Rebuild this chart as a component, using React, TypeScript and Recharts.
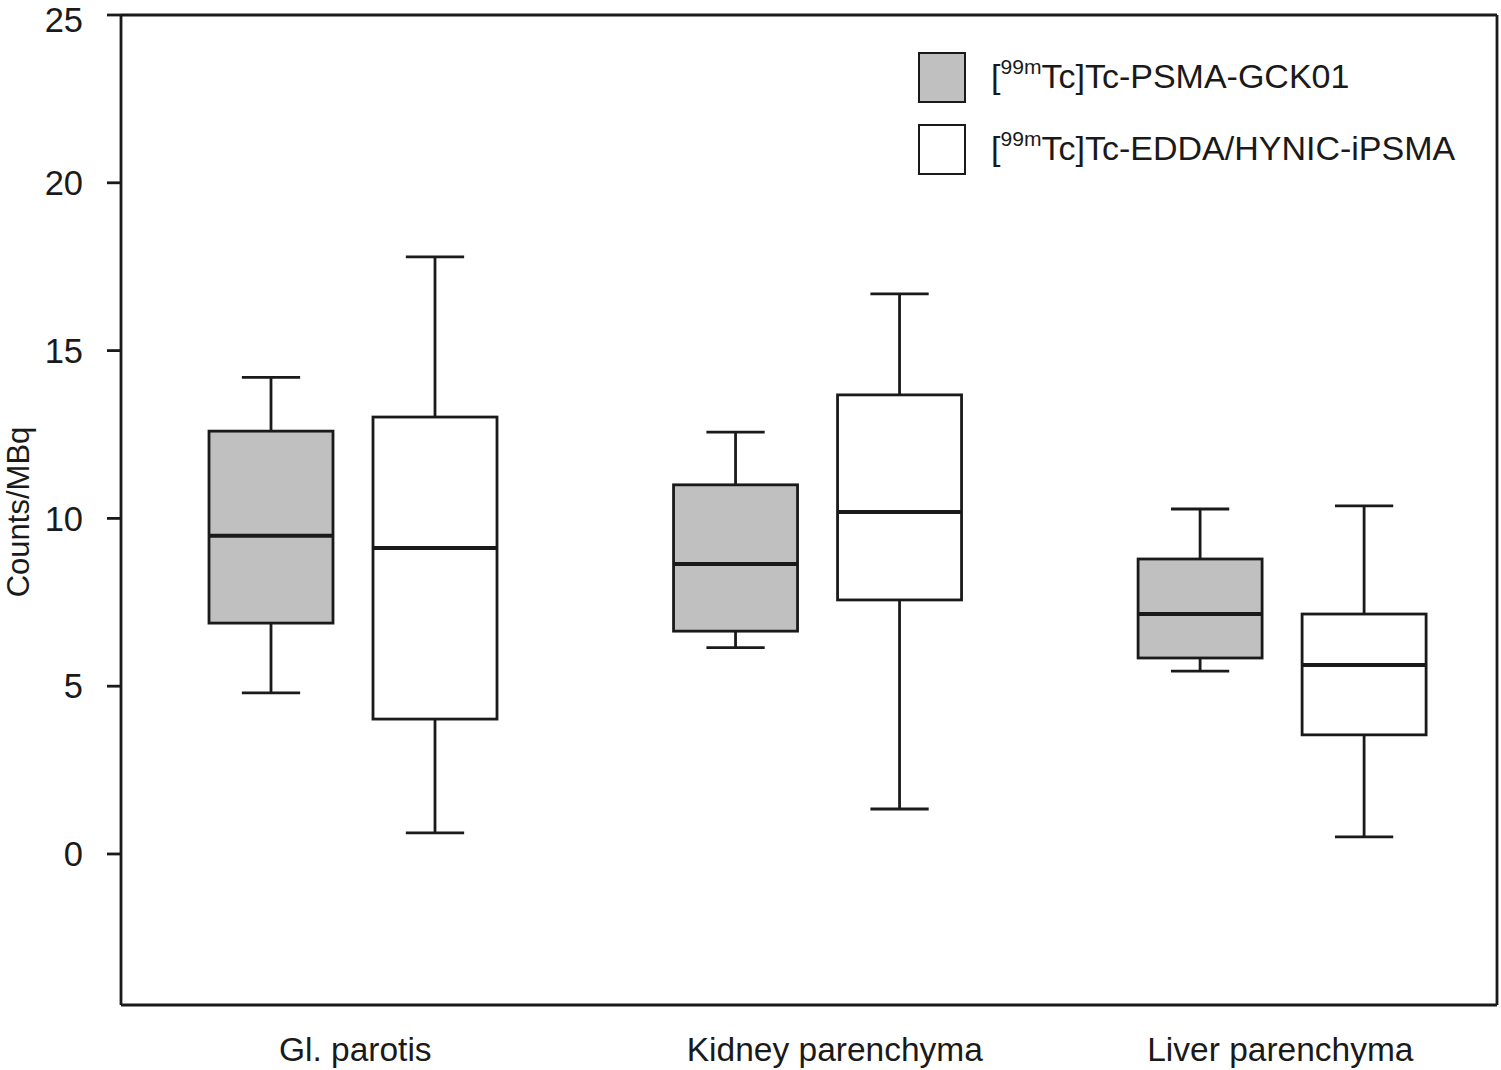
import React from "react";
import {
  BarChart,
  Bar,
  XAxis,
  YAxis,
  Legend,
  ReferenceLine,
} from "recharts";

const FONT = '"Liberation Sans", Arial, sans-serif';
const INK = "#1a1a1a";

const CATEGORIES = ["Gl. parotis", "Kidney parenchyma", "Liver parenchyma"];
const POSITIONS = [0.5, 1.5, 2.5];
const Y_TICKS = [0, 5, 10, 15, 20, 25];

// [99mTc]Tc-PSMA-GCK01
const GCK01_MIN = [4.8, 6.15, 5.45];
const GCK01_Q1 = [6.88, 6.64, 5.84];
const GCK01_MEDIAN = [9.48, 8.64, 7.15];
const GCK01_Q3 = [12.6, 11.0, 8.79];
const GCK01_MAX = [14.2, 12.57, 10.28];

// [99mTc]Tc-EDDA/HYNIC-iPSMA
const IPSMA_MIN = [0.63, 1.34, 0.51];
const IPSMA_Q1 = [4.02, 7.57, 3.55];
const IPSMA_MEDIAN = [9.12, 10.19, 5.63];
const IPSMA_Q3 = [13.02, 13.68, 7.15];
const IPSMA_MAX = [17.79, 16.69, 10.37];

const SERIES = [
  { key: "gck01", name: "[99mTc]Tc-PSMA-GCK01", sup: "99m", rest: "Tc]Tc-PSMA-GCK01", fill: "#c0c0c0" },
  { key: "ipsma", name: "[99mTc]Tc-EDDA/HYNIC-iPSMA", sup: "99m", rest: "Tc]Tc-EDDA/HYNIC-iPSMA", fill: "#ffffff" },
];

// small nudges of the category labels as placed in the original figure
const X_LABEL_SHIFT = [2, 17, -2];

const data = POSITIONS.map((pos, i) => ({
  pos,
  category: CATEGORIES[i],
  gck01: [GCK01_MIN[i], GCK01_MAX[i]],
  gck01Stats: { q1: GCK01_Q1[i], median: GCK01_MEDIAN[i], q3: GCK01_Q3[i] },
  ipsma: [IPSMA_MIN[i], IPSMA_MAX[i]],
  ipsmaStats: { q1: IPSMA_Q1[i], median: IPSMA_MEDIAN[i], q3: IPSMA_Q3[i] },
}));

const renderBox = (key: string, fill: string) => (props: any) => {
  const { x, y, width, height, payload } = props;
  const [lo, hi] = payload[key];
  const s = payload[key + "Stats"];
  const top = Math.min(y, y + height);
  const bottom = Math.max(y, y + height);
  const py = (v: number) => bottom - ((v - lo) / (hi - lo)) * (bottom - top);
  const cx = x + width / 2;
  const cap = width * 0.235;
  return (
    <g stroke={INK} strokeWidth={2.8}>
      <line x1={cx} x2={cx} y1={py(hi)} y2={py(s.q3)} />
      <line x1={cx} x2={cx} y1={py(s.q1)} y2={py(lo)} />
      <line x1={cx - cap} x2={cx + cap} y1={py(hi)} y2={py(hi)} />
      <line x1={cx - cap} x2={cx + cap} y1={py(lo)} y2={py(lo)} />
      <rect x={x} y={py(s.q3)} width={width} height={py(s.q1) - py(s.q3)} fill={fill} />
      <line x1={x} x2={x + width} y1={py(s.median)} y2={py(s.median)} strokeWidth={4} />
    </g>
  );
};

const CategoryTick = (props: any) => {
  const { x, y, payload, index } = props;
  return (
    <text
      x={x + (X_LABEL_SHIFT[index] ?? 0)}
      y={y}
      dy="0.71em"
      textAnchor="middle"
      fontSize={33.5}
      fontFamily={FONT}
      fill={INK}
    >
      {CATEGORIES[POSITIONS.indexOf(payload.value)]}
    </text>
  );
};

const renderLegend = () => (
  <div style={{ fontFamily: FONT, fontSize: 34, color: INK }}>
    {SERIES.map((s) => (
      <div key={s.key} style={{ display: "flex", alignItems: "center", height: 51, marginBottom: 21 }}>
        <div
          style={{
            width: 48,
            height: 51,
            boxSizing: "border-box",
            border: `2.8px solid ${INK}`,
            background: s.fill,
          }}
        />
        <span style={{ marginLeft: 25, marginTop: -4, whiteSpace: "nowrap" }}>
          [<sup style={{ fontSize: "0.62em", verticalAlign: "0.65em" }}>{s.sup}</sup>
          {s.rest}
        </span>
      </div>
    ))}
  </div>
);

const YLabel = (props: any) => {
  const { viewBox } = props;
  const cy = viewBox.y + viewBox.height / 2;
  return (
    <text
      transform={`translate(${viewBox.x + 29}, ${cy + 2}) rotate(-90)`}
      textAnchor="middle"
      fontSize={31}
      fontFamily={FONT}
      fill={INK}
    >
      Counts/MBq
    </text>
  );
};

export default function App() {
  return (
    <div style={{ position: "absolute", left: 0, top: 0, fontFamily: FONT }}>
      <BarChart
        width={1501}
        height={1070}
        data={data}
        margin={{ top: 15, right: 4, bottom: 0, left: 0 }}
        barSize={124}
        barGap={40}
      >
        <XAxis
          type="number"
          dataKey="pos"
          domain={[0, 2.962]}
          ticks={POSITIONS}
          height={65}
          tickSize={0}
          tickMargin={32}
          tickLine={false}
          axisLine={{ stroke: INK, strokeWidth: 2.8 }}
          tick={<CategoryTick />}
          allowDataOverflow
        />
        <YAxis
          type="number"
          domain={[-4.5, 25]}
          ticks={Y_TICKS}
          width={121}
          tickSize={14}
          tickMargin={24}
          axisLine={{ stroke: INK, strokeWidth: 2.8 }}
          tickLine={{ stroke: INK, strokeWidth: 2.8 }}
          tick={{ fontSize: 34.5, fill: INK, fontFamily: FONT }}
          label={<YLabel />}
          allowDataOverflow
        />
        <ReferenceLine y={25} stroke={INK} strokeWidth={2.8} ifOverflow="visible" />
        <ReferenceLine x={2.962} stroke={INK} strokeWidth={2.8} ifOverflow="visible" />
        <Legend
          layout="vertical"
          align="center"
          verticalAlign="middle"
          content={renderLegend}
          wrapperStyle={{ left: 918, top: 52, width: 575 }}
        />
        {SERIES.map((s) => (
          <Bar
            key={s.key}
            dataKey={s.key}
            name={s.name}
            fill={s.fill}
            shape={renderBox(s.key, s.fill)}
            isAnimationActive={false}
          />
        ))}
      </BarChart>
    </div>
  );
}
